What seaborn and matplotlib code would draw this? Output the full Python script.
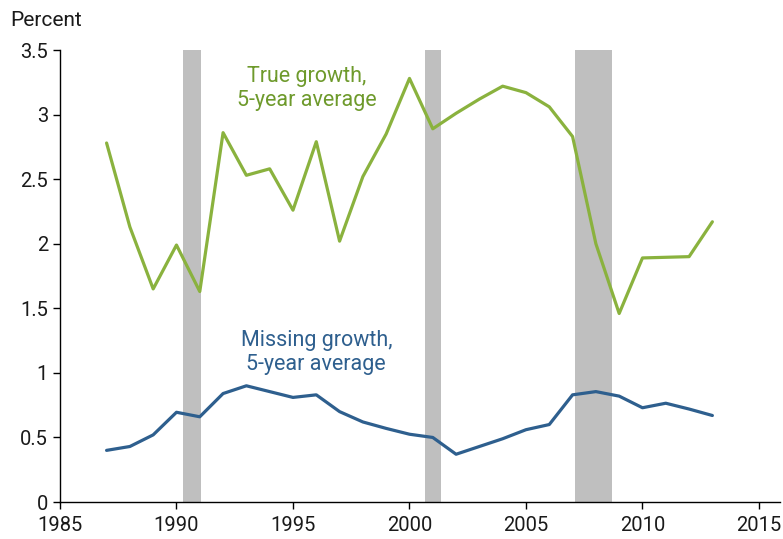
import matplotlib as mpl
mpl.use('Agg')
import numpy as np
import pandas as pd
import seaborn as sns
from matplotlib import pyplot as plt

YEARS = list(range(1987, 2014))
TRUE_GROWTH = [2.78, 2.13, 1.65, 1.99, 1.63, 2.86, 2.53, 2.58, 2.26, 2.79,
               2.02, 2.52, 2.85, 3.28, 2.89, 3.01, 3.12, 3.22, 3.17, 3.06,
               2.83, 2.00, 1.46, 1.89, 1.895, 1.90, 2.17]
MISSING_GROWTH = [0.40, 0.43, 0.52, 0.695, 0.66, 0.84, 0.90, 0.855, 0.81, 0.83,
                  0.70, 0.62, 0.57, 0.525, 0.50, 0.37, 0.43, 0.49, 0.56, 0.60,
                  0.83, 0.855, 0.82, 0.73, 0.765, 0.72, 0.67]
RECESSIONS = [(1990.3, 1991.05), (2000.65, 2001.35), (2007.1, 2008.7)]

GREEN = '#8ab23e'
GREEN_TEXT = '#6e9a2c'
BLUE = '#2e5f8e'
BAND = '#bfbfbf'

sns.set_style('white')
plt.rcParams['font.family'] = ['Roboto', 'DejaVu Sans']

df = pd.DataFrame({'YEAR': YEARS, 'TRUE': TRUE_GROWTH, 'MISSING': MISSING_GROWTH})

fig = plt.figure(figsize=(7.83, 5.39), dpi=100)
ax = fig.add_axes([0.0766, 0.0686, 0.9195, 0.8386])

# recession shading
for start, end in RECESSIONS:
    ax.axvspan(start, end, color=BAND, lw=0, zorder=0)

sns.lineplot(data=df, x='YEAR', y='TRUE', ax=ax, color=GREEN, lw=2.3, zorder=3)
sns.lineplot(data=df, x='YEAR', y='MISSING', ax=ax, color=BLUE, lw=2.3, zorder=3)

ax.set_xlim(1985, 2015.9)
ax.set_ylim(0, 3.5)
ax.set_xticks(np.arange(1985, 2016, 5))
ax.set_yticks([0, 0.5, 1, 1.5, 2, 2.5, 3, 3.5])
ax.set_yticklabels(['0', '0.5', '1', '1.5', '2', '2.5', '3', '3.5'])
ax.set_xlabel(None)
ax.set_ylabel(None)

for side in ['top', 'right']:
    ax.spines[side].set_visible(False)
for side in ['left', 'bottom']:
    ax.spines[side].set_color('black')
    ax.spines[side].set_linewidth(1.0)

ax.tick_params(axis='both', which='major', direction='out', length=5, width=1,
               color='black', labelsize=14.5, labelcolor='#1a1a1a', pad=3.5)
ax.tick_params(axis='x', bottom=True, pad=5)
ax.tick_params(axis='y', left=True)

fig.text(0.013, 0.962, 'Percent', fontsize=15, color='#1a1a1a', ha='left', va='center')

ax.text(1995.6, 3.2, 'True growth,\n5-year average', color=GREEN_TEXT, fontsize=15.5,
        ha='center', va='center', linespacing=1.2)
ax.text(1996.0, 1.16, 'Missing growth,\n5-year average', color=BLUE, fontsize=15.5,
        ha='center', va='center', linespacing=1.2)

plt.savefig('out.png', dpi=100)
